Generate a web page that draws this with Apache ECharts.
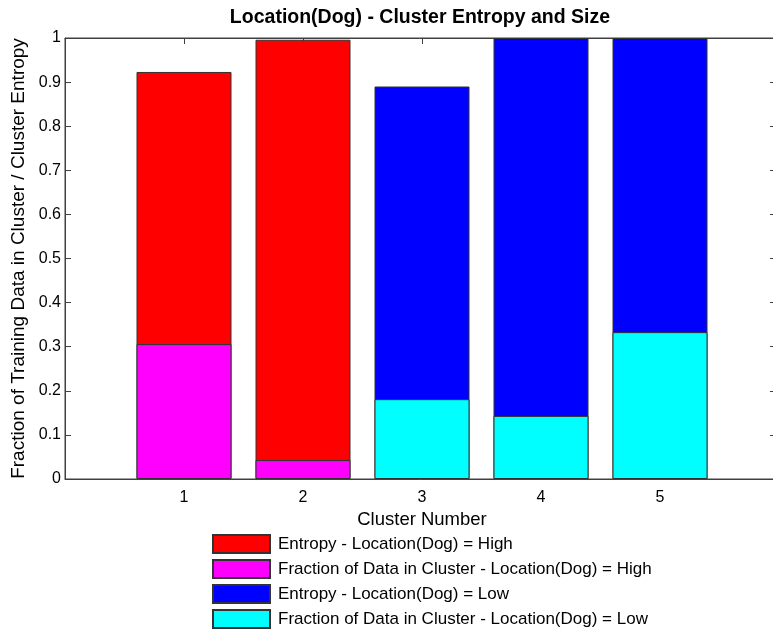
<!DOCTYPE html>
<html><head><meta charset="utf-8">
<script src="https://cdn.jsdelivr.net/npm/echarts@6/dist/echarts.min.js"></script>
<style>html,body{margin:0;padding:0;background:#fff}#c{width:773px;height:636px}</style>
</head><body><div id="c"></div>
<script>
const clustersHigh = [1, 2];
const clustersLow = [3, 4, 5];
const entropyHigh = [0.923, 0.996];
const fractionHigh = [0.306, 0.043];
const entropyLow = [0.890, 1.0, 1.0];
const fractionLow = [0.181, 0.143, 0.333];
const seriesNames = [
  'Entropy - Location(Dog) = High',
  'Fraction of Data in Cluster - Location(Dog) = High',
  'Entropy - Location(Dog) = Low',
  'Fraction of Data in Cluster - Location(Dog) = Low'
];
const colors = ['#ff0000', '#ff00ff', '#0000ff', '#00ffff'];
const FONT = 'Liberation Sans';

function pairs(xs, ys){ return xs.map((x,i)=>[x, ys[i]]); }
const dataSets = [pairs(clustersHigh, entropyHigh), pairs(clustersHigh, fractionHigh), pairs(clustersLow, entropyLow), pairs(clustersLow, fractionLow)];

const chart = echarts.init(document.getElementById('c'), null, {renderer:'canvas'});
const mkLine = () => ({show:true, onZero:false, lineStyle:{color:'#404040', width:1}});
const mkTick = (len) => ({show:true, inside:true, length:len || 6, lineStyle:{color:'#404040'}});
chart.setOption({
  animation:false,
  backgroundColor:'#fff',
  title:{text:'Location(Dog) - Cluster Entropy and Size', left:415, textAlign:'center', top:3,
    textStyle:{fontFamily:FONT, fontSize:19.5, fontWeight:'bold', color:'#000'}},
  legend:{orient:'vertical', left:212, top:534, height:110, padding:0, itemWidth:57, itemHeight:18, itemGap:5,
    icon:'rect', data:seriesNames, selectedMode:false,
    textStyle:{fontFamily:FONT, fontSize:17, lineHeight:18, color:'#000', padding:[0,0,0,3]}},
  grid:{left:65, top:38, width:714, height:441, containLabel:false, outerBoundsMode:'none',
    show:true, borderColor:'#404040', borderWidth:1, backgroundColor:'transparent'},
  xAxis:[{type:'value', min:0, max:6, interval:1, name:'Cluster Number', nameLocation:'middle', nameGap:31,
    nameTextStyle:{fontFamily:FONT, fontSize:18.5, color:'#000'},
    axisLine:mkLine(), splitLine:{show:false}, axisTick:mkTick(),
    axisLabel:{fontFamily:FONT, fontSize:16, color:'#000', margin:11,
      formatter:v => (v>=1 && v<=5) ? String(v) : ''}},
   {type:'value', min:0, max:6, interval:1, position:'top', axisLine:mkLine(), splitLine:{show:false},
    axisTick:mkTick(), axisLabel:{show:false}}],
  yAxis:[{type:'value', min:0, max:1, interval:0.1, name:'Fraction of Training Data in Cluster / Cluster Entropy',
    nameLocation:'middle', nameGap:34, nameTextStyle:{fontFamily:FONT, fontSize:19, color:'#000'},
    axisLine:mkLine(), splitLine:{show:false}, axisTick:mkTick(),
    axisLabel:{fontFamily:FONT, fontSize:16, color:'#000', margin:4,
      formatter:v => String(Math.round(v*10)/10)}},
   {type:'value', min:0, max:1, interval:0.1, position:'right', axisLine:mkLine(), splitLine:{show:false},
    axisTick:mkTick(9), axisLabel:{show:false}}],
  series: dataSets.map((d,i)=>({
    name:seriesNames[i], type:'bar', data:d, barWidth:95, barGap:'-100%',
    itemStyle:{color:colors[i], borderColor:'#333', borderWidth:1}
  }))
});
</script></body></html>
